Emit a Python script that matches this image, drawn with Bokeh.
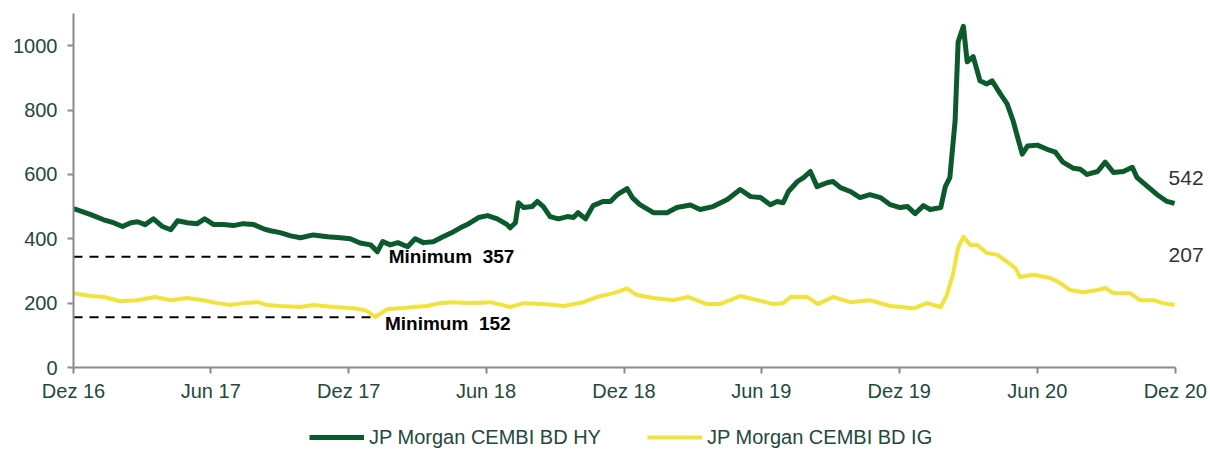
from datetime import datetime, timedelta
import pandas as pd
from bokeh.plotting import figure
from bokeh.layouts import column
from bokeh.models import (ColumnDataSource, Range1d, FixedTicker, Legend, LegendItem, Label)
from bokeh.core.properties import value
from bokeh.embed import file_html
from bokeh.resources import INLINE

# ---------------- data ----------------
hy_dates = ["2016-12-01","2016-12-24","2017-01-10","2017-01-23","2017-02-04","2017-02-15","2017-02-24",
            "2017-03-06","2017-03-17","2017-03-29","2017-04-09","2017-04-18","2017-05-01","2017-05-14",
            "2017-05-24","2017-06-05","2017-06-18","2017-07-01","2017-07-14","2017-07-28","2017-08-10",
            "2017-08-19","2017-09-01","2017-09-15","2017-09-28","2017-10-15","2017-11-03","2017-11-20",
            "2017-12-03","2017-12-16","2017-12-30","2018-01-08","2018-01-15","2018-01-25","2018-02-04",
            "2018-02-17","2018-02-27","2018-03-10","2018-03-23","2018-04-05","2018-04-19","2018-04-28",
            "2018-05-07","2018-05-22","2018-06-03","2018-06-16","2018-06-29","2018-07-03","2018-07-10",
            "2018-07-14","2018-07-21","2018-08-01","2018-08-08","2018-08-16","2018-08-25","2018-09-05",
            "2018-09-17","2018-09-25","2018-10-01","2018-10-11","2018-10-21","2018-11-03","2018-11-13",
            "2018-11-22","2018-12-05","2018-12-12","2018-12-22","2019-01-09","2019-01-27","2019-02-09",
            "2019-02-27","2019-03-12","2019-03-29","2019-04-17","2019-05-04","2019-05-18","2019-05-31",
            "2019-06-13","2019-06-22","2019-06-30","2019-07-07","2019-07-19","2019-07-27","2019-08-05",
            "2019-08-14","2019-08-28","2019-09-04","2019-09-14","2019-09-27","2019-10-10","2019-10-23",
            "2019-11-06","2019-11-19","2019-12-02","2019-12-12","2019-12-22","2020-01-02","2020-01-11",
            "2020-01-25","2020-01-31","2020-02-06","2020-02-13","2020-02-17","2020-02-24","2020-02-29",
            "2020-03-08","2020-03-17","2020-03-26","2020-04-02","2020-04-13","2020-04-22","2020-04-30",
            "2020-05-12","2020-05-19","2020-06-01","2020-06-14","2020-06-25","2020-07-05","2020-07-19",
            "2020-07-28","2020-08-06","2020-08-20","2020-08-30","2020-09-10","2020-09-23","2020-10-05",
            "2020-10-11","2020-10-25","2020-11-07","2020-11-20","2020-11-30"]
hy_values = [494, 475, 459, 450, 438, 450, 453,
             444, 462, 438, 428, 456, 450, 447,
             462, 444, 444, 441, 447, 444, 431,
             425, 419, 409, 403, 412, 406, 403,
             400, 387, 381, 360, 391, 381, 388,
             375, 400, 388, 391, 406, 422, 434,
             444, 466, 472, 462, 444, 434, 450,
             512, 497, 500, 516, 500, 469, 462,
             469, 466, 481, 462, 503, 516, 516,
             537, 556, 528, 506, 481, 481, 497,
             505, 491, 500, 522, 553, 531, 528,
             506, 516, 512, 547, 578, 590, 609,
             562, 575, 578, 559, 547, 528, 537,
             528, 506, 497, 500, 478, 503, 491,
             497, 562, 590, 766, 1012, 1060, 950,
             966, 891, 881, 891, 850, 819, 766,
             663, 688, 691, 678, 669, 638, 619,
             616, 600, 609, 638, 606, 609, 622,
             591, 563, 537, 516, 510]

ig_dates = ["2016-12-01","2016-12-24","2017-01-10","2017-02-01","2017-02-24","2017-03-19","2017-04-09",
            "2017-05-01","2017-05-22","2017-06-10","2017-06-27","2017-07-14","2017-08-02","2017-08-15",
            "2017-09-01","2017-09-28","2017-10-15","2017-11-11","2017-12-07","2017-12-23","2018-01-05",
            "2018-01-21","2018-02-07","2018-02-25","2018-03-15","2018-04-01","2018-04-19","2018-05-11",
            "2018-06-07","2018-07-03","2018-07-21","2018-08-16","2018-09-12","2018-10-08","2018-10-26",
            "2018-11-17","2018-12-05","2018-12-18","2019-01-09","2019-02-04","2019-02-24","2019-03-21",
            "2019-04-07","2019-05-04","2019-05-22","2019-06-17","2019-06-30","2019-07-10","2019-08-01",
            "2019-08-15","2019-09-04","2019-09-27","2019-10-23","2019-11-19","2019-12-20","2020-01-07",
            "2020-01-25","2020-02-02","2020-02-10","2020-02-17","2020-02-24","2020-03-04","2020-03-13",
            "2020-03-26","2020-04-09","2020-04-22","2020-05-03","2020-05-09","2020-05-27","2020-06-18",
            "2020-07-01","2020-07-14","2020-08-01","2020-08-20","2020-08-30","2020-09-10","2020-10-02",
            "2020-10-15","2020-11-02","2020-11-15","2020-11-30"]
ig_values = [231, 222, 219, 206, 209, 219, 209,
             216, 209, 200, 194, 200, 203, 194,
             191, 188, 194, 188, 184, 178, 157,
             181, 184, 188, 191, 200, 203, 200,
             203, 188, 200, 197, 191, 203, 219,
             231, 245, 225, 216, 209, 219, 197,
             197, 222, 212, 197, 200, 219, 219,
             197, 219, 203, 209, 191, 184, 200,
             188, 225, 288, 372, 406, 381, 381,
             356, 350, 328, 309, 281, 288, 278,
             263, 241, 234, 241, 247, 231, 231,
             209, 209, 200, 194]

series_names = ["JP Morgan CEMBI BD HY", "JP Morgan CEMBI BD IG"]
end_labels = ["542", "207"]

# minimum annotations
min_start = ["2016-12-01", "2016-12-01"]
min_end = ["2018-01-01", "2018-01-03"]
min_levels = [344, 156]
min_text_dates = ["2018-01-23", "2018-01-18"]
min_text_values = [344, 136]
min_texts = ["Minimum\u00a0 357", "Minimum\u00a0 152"]

tick_dates = ["2016-12-01", "2017-06-01", "2017-12-01", "2018-06-01", "2018-12-01",
              "2019-06-01", "2019-12-01", "2020-06-01", "2020-12-01"]
tick_labels = ["Dez 16", "Jun 17", "Dez 17", "Jun 18", "Dez 18", "Jun 19", "Dez 19", "Jun 20", "Dez 20"]
y_ticks = [0, 200, 400, 600, 800, 1000]

# ---------------- style ----------------
HY_COLOR = "#0b5a2b"
IG_COLOR = "#f2e33c"
TXT_COLOR = "#22493c"
AXIS_COLOR = "#8a8a8a"
FONT = "Liberation Sans"

axis_start = datetime(2016, 12, 1)
axis_end = datetime(2020, 12, 1)
view_end = axis_end + timedelta(days=44)   # room at the right for the end labels

p = figure(width=1210, height=410, x_axis_type="datetime", output_backend="svg",
           toolbar_location=None,
           x_range=Range1d(axis_start, view_end),
           y_range=Range1d(0, 1100),
           min_border_left=73, min_border_right=2, min_border_top=13, min_border_bottom=43)
p.outline_line_color = None
p.xgrid.visible = False
p.ygrid.visible = False
p.background_fill_color = "white"
p.border_fill_color = "white"

hy_src = ColumnDataSource(dict(x=pd.to_datetime(hy_dates), y=hy_values))
ig_src = ColumnDataSource(dict(x=pd.to_datetime(ig_dates), y=ig_values))

p.line("x", "y", source=hy_src, line_color=HY_COLOR, line_width=5, line_join="round")
p.line("x", "y", source=ig_src, line_color=IG_COLOR, line_width=4, line_join="round")

min_src = ColumnDataSource(dict(x0=pd.to_datetime(min_start), x1=pd.to_datetime(min_end),
                                y=min_levels))
p.segment(x0="x0", y0="y", x1="x1", y1="y", source=min_src, line_color="black",
          line_width=2, line_dash="9 7")
txt_src = ColumnDataSource(dict(x=pd.to_datetime(min_text_dates), y=min_text_values, t=min_texts))
p.text(x="x", y="y", text="t", source=txt_src, text_font=value("Liberation Sans"),
       text_font_style="bold", text_font_size="19px", text_color="black",
       text_baseline="middle", text_align="left")

# end labels
p.add_layout(Label(x=pd.Timestamp(hy_dates[-1]), y=hy_values[-1], text=end_labels[0],
                   x_offset=-6, y_offset=25, text_font=FONT, text_font_size="21px",
                   text_color="#333333", text_baseline="middle", text_align="left"))
p.add_layout(Label(x=pd.Timestamp(ig_dates[-1]), y=ig_values[-1], text=end_labels[1],
                   x_offset=-6, y_offset=50, text_font=FONT, text_font_size="21px",
                   text_color="#333333", text_baseline="middle", text_align="left"))

# axes
tick_ms = [pd.Timestamp(d).value / 1e6 for d in tick_dates]
p.xaxis.ticker = FixedTicker(ticks=tick_ms)
p.xaxis.major_label_overrides = {t: l for t, l in zip(tick_ms, tick_labels)}
p.xaxis.bounds = (axis_start, axis_end)
p.yaxis.ticker = FixedTicker(ticks=y_ticks)
for ax in (p.xaxis[0], p.yaxis[0]):
    ax.axis_line_color = AXIS_COLOR
    ax.axis_line_width = 2
    ax.major_tick_line_color = AXIS_COLOR
    ax.major_tick_line_width = 2
    ax.major_tick_out = 6
    ax.major_tick_in = 0
    ax.minor_tick_out = 0
    ax.minor_tick_in = 0
    ax.major_label_text_font = FONT
    ax.major_label_text_font_size = "20px"
    ax.major_label_text_color = TXT_COLOR
p.yaxis.major_label_standoff = 10
p.xaxis.major_label_standoff = 6

# ---------------- legend strip (same series, kept out of its view) ----------------
leg = figure(width=1210, height=40, output_backend="svg", toolbar_location=None,
             x_range=Range1d(0, 1), y_range=Range1d(0, 1),
             min_border_left=0, min_border_right=0, min_border_top=0, min_border_bottom=0)
leg.axis.visible = False
leg.grid.visible = False
leg.outline_line_color = None
leg_hy = leg.line("x", "y", source=hy_src, line_color=HY_COLOR, line_width=5)
leg_ig = leg.line("x", "y", source=ig_src, line_color=IG_COLOR, line_width=4)
legend = Legend(items=[LegendItem(label=series_names[0], renderers=[leg_hy]),
                       LegendItem(label=series_names[1], renderers=[leg_ig])],
                orientation="horizontal", location=(236, 1),
                glyph_width=55, glyph_height=24, label_height=24, label_standoff=5,
                spacing=46, padding=0, margin=0,
                label_text_font=FONT, label_text_font_size="20px", label_text_color=TXT_COLOR,
                background_fill_alpha=0, border_line_alpha=0)
leg.add_layout(legend, "center")

layout = column(p, leg, spacing=0)
open("out.html", "w").write(file_html(layout, INLINE))
